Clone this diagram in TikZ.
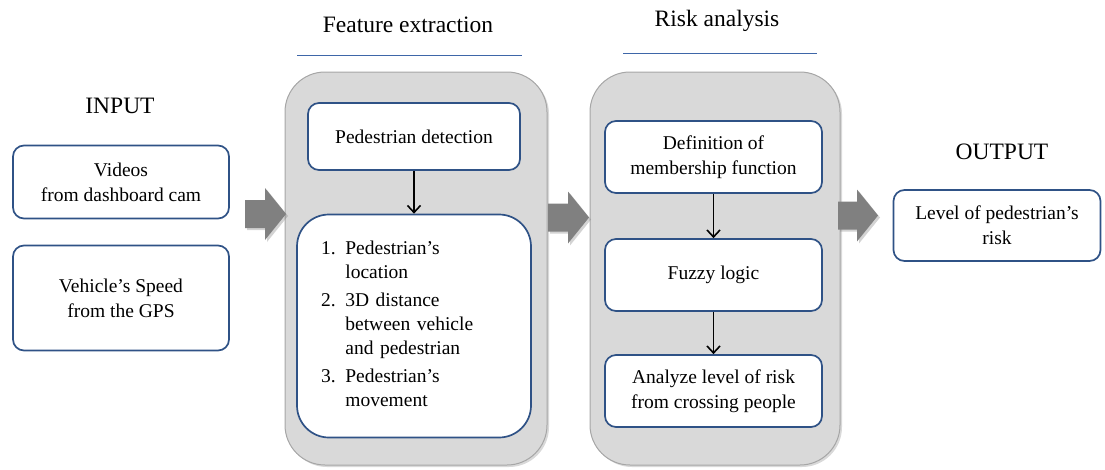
\documentclass[tikz,border=0pt]{standalone}
\usepackage{fontspec}
\setmainfont{Liberation Serif}
\usepackage{xcolor}
\usepackage{tikz}
\usetikzlibrary{arrows.meta,shadows}

\definecolor{boxblue}{HTML}{2F5286}
\definecolor{ruleblue}{HTML}{3E66A8}
\definecolor{panelgray}{HTML}{D9D9D9}
\definecolor{paneledge}{HTML}{A6A6A6}
\definecolor{arrowgray}{HTML}{808080}

\begin{document}
\begin{tikzpicture}[x=1pt,y=-1pt,font=\fontsize{19.5}{25}\selectfont,
  box/.style={draw=boxblue,line width=1.7pt,rounded corners=11pt,fill=white,align=center,inner sep=0pt},
  panel/.style={draw=paneledge,line width=1pt,fill=panelgray,rounded corners=40pt,inner sep=0pt,
    drop shadow={shadow xshift=2pt,shadow yshift=-2pt,opacity=.3}},
  heading/.style={font=\fontsize{23.5}{28}\selectfont},
  bigarrow/.style={fill=arrowgray,drop shadow={shadow xshift=2pt,shadow yshift=-2pt,opacity=.35}},
  link/.style={-{Straight Barb[length=7pt,width=13pt,line width=1.6pt]},line width=1.8pt}]
  \useasboundingbox (0,0) rectangle (1105,469);

  % input
  \node[heading] (input) at (120,106) {INPUT};
  \node[box,minimum width=216pt,minimum height=73pt] (videos) at (121,182) {Videos\\from dashboard cam};
  \node[box,minimum width=216pt,minimum height=105pt] (speed) at (121,298) {Vehicle's Speed\\from the GPS};

  % feature extraction
  \node[heading] (fetitle) at (408,25) {Feature extraction};
  \draw[ruleblue,line width=1pt] (297,55) -- (522,55);
  \node[panel,minimum width=262pt,minimum height=393pt] (fe) at (416,268.5) {};
  \node[box,minimum width=212pt,minimum height=67pt] (det) at (414,136.5) {Pedestrian detection};
  \node[box,rounded corners=32pt,minimum width=234pt,minimum height=223pt,
    inner xsep=24pt,text width=186pt,align=left,font=\fontsize{19.5}{24}\selectfont] (list) at (414,326)
    {\begin{tabular}{@{}l@{ }l@{}}
      1. & Pedestrian's\\ & location\\[4pt]
      2. & 3D distance\\ & between vehicle\\ & and pedestrian\\[4pt]
      3. & Pedestrian's\\ & movement
     \end{tabular}};
  \draw[link] (det) -- (list);

  % risk analysis
  \node[heading] (ratitle) at (717,21) {Risk analysis};
  \draw[ruleblue,line width=1pt] (623,53) -- (817,53);
  \node[panel,minimum width=250pt,minimum height=393pt] (ra) at (715,268.5) {};
  \node[box,minimum width=217pt,minimum height=72pt] (def) at (713.5,157) {Definition of\\membership function};
  \node[box,minimum width=217pt,minimum height=72pt] (fuzzy) at (713.5,275) {Fuzzy logic};
  \node[box,minimum width=217pt,minimum height=72pt] (analyze) at (713.5,391) {Analyze level of risk\\from crossing people};
  \draw[link] (def) -- (fuzzy);
  \draw[link] (fuzzy) -- (analyze);

  % output
  \node[heading] (output) at (1002,152) {OUTPUT};
  \node[box,minimum width=207pt,minimum height=71pt] (risk) at (997,225.5) {Level of pedestrian's\\risk};

  % block arrows
  \fill[bigarrow] (245,200) -- ++(20,0) -- ++(0,-12) -- ++(21,26) -- ++(-21,26) -- ++(0,-12) -- ++(-20,0) -- cycle;
  \fill[bigarrow] (548,203.5) -- ++(20,0) -- ++(0,-12) -- ++(21,26) -- ++(-21,26) -- ++(0,-12) -- ++(-20,0) -- cycle;
  \fill[bigarrow] (838,201.5) -- ++(19,0) -- ++(0,-12) -- ++(21,26) -- ++(-21,26) -- ++(0,-12) -- ++(-19,0) -- cycle;
\end{tikzpicture}
\end{document}
